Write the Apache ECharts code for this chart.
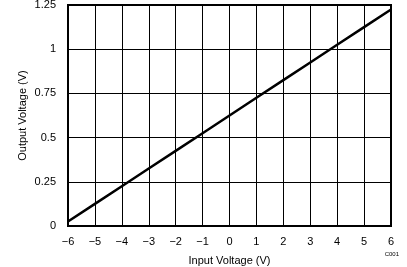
<!DOCTYPE html>
<html><head><meta charset="utf-8">
<script src="https://cdn.jsdelivr.net/npm/echarts@6/dist/echarts.min.js"></script>
<style>html,body{margin:0;padding:0;background:#fff}#c{width:407px;height:267px}</style>
</head><body><div id="c"></div>
<script>
const inputVoltage = [-6,-5,-4,-3,-2,-1,0,1,2,3,4,5,6];
const outputVoltage = [0.025,0.125,0.225,0.325,0.425,0.525,0.625,0.725,0.825,0.925,1.025,1.125,1.225];
const xTitle = 'Input Voltage (V)';
const yTitle = 'Output Voltage (V)';
const note = 'C001';

const chart = echarts.init(document.getElementById('c'));
const font = 'Liberation Sans, Arial, Helvetica, sans-serif';
chart.setOption({
  animation:false,
  grid:{left:68,right:16,top:5,bottom:41,show:true,borderColor:'#000',borderWidth:2,backgroundColor:'transparent',
    containLabel:false,outerBoundsMode:'none'},
  xAxis:{type:'value',min:-6,max:6,interval:1,
    name:xTitle,nameLocation:'middle',nameGap:29,
    nameTextStyle:{fontFamily:font,fontSize:11,color:'#000'},
    axisLine:{show:true,onZero:false,lineStyle:{color:'#000',width:2}},
    axisTick:{show:false},
    axisLabel:{margin:10,fontFamily:font,fontSize:11,color:'#000',formatter:v=>String(v).replace('-','\u2212')},
    splitLine:{show:true,lineStyle:{color:'#000',width:1}}},
  yAxis:{type:'value',min:0,max:1.25,interval:0.25,
    name:yTitle,nameLocation:'middle',nameGap:40,nameMoveOverlap:false,
    nameTextStyle:{fontFamily:font,fontSize:11,color:'#000'},
    axisLine:{show:true,onZero:false,lineStyle:{color:'#000',width:2}},
    axisTick:{show:false},
    axisLabel:{margin:12,fontFamily:font,fontSize:11,color:'#000'},
    splitLine:{show:true,lineStyle:{color:'#000',width:1}}},
  graphic:[{type:'text',right:8,top:251,style:{text:note,fontFamily:font,fontSize:6,fill:'#000'}}],
  series:[{type:'line',data:inputVoltage.map((x,i)=>[x,outputVoltage[i]]),
    showSymbol:false,lineStyle:{color:'#000',width:2.5},silent:true}]
});
</script></body></html>
